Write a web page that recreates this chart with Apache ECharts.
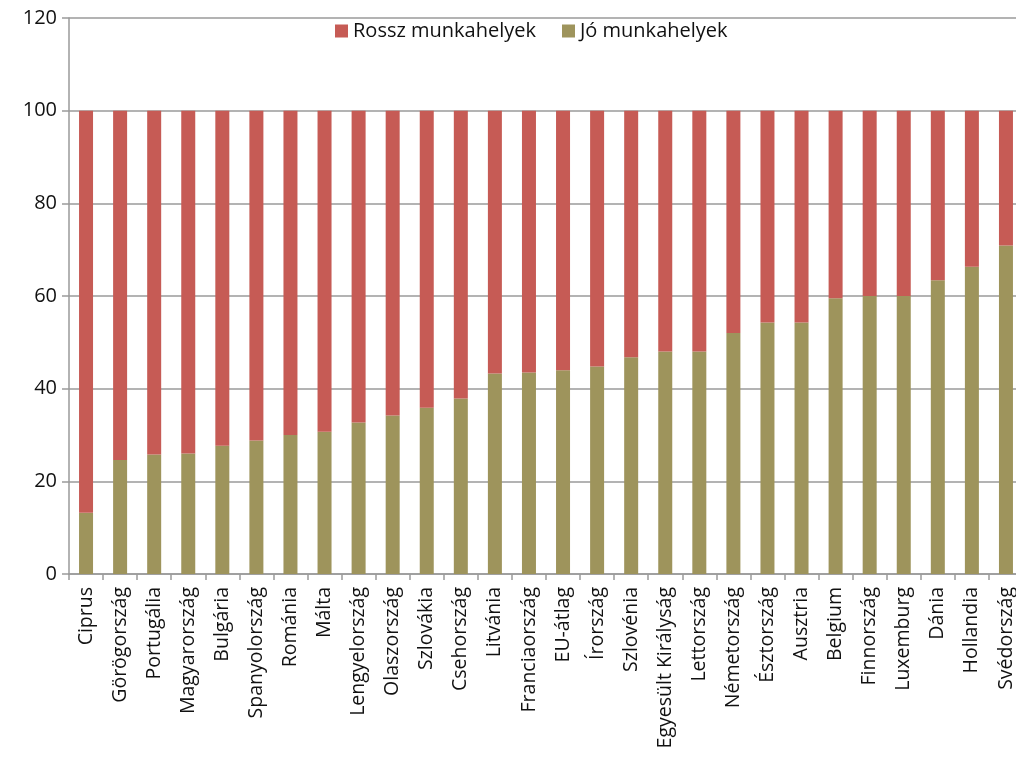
<!DOCTYPE html>
<html>
<head>
<meta charset="utf-8">
<script src="https://cdn.jsdelivr.net/npm/echarts@6/dist/echarts.min.js"></script>
<style>html,body{margin:0;padding:0;background:#fff}#c{width:1016px;height:760px}</style>
</head>
<body>
<div id="c"></div>
<script>
const categories = ["Ciprus","Görögország","Portugália","Magyarország","Bulgária","Spanyolország","Románia","Málta","Lengyelország","Olaszország","Szlovákia","Csehország","Litvánia","Franciaország","EU-átlag","Írország","Szlovénia","Egyesült Királyság","Lettország","Németország","Észtország","Ausztria","Belgium","Finnország","Luxemburg","Dánia","Hollandia","Svédország"];
const goodJobs = [13.2,24.6,25.8,26.0,27.7,28.8,30.0,30.7,32.7,34.2,35.9,37.9,43.3,43.5,44.0,44.8,46.8,48.0,48.0,52.0,54.3,54.3,59.5,60.0,60.0,63.4,66.3,70.9];
const badJobs = [86.8,75.4,74.2,74.0,72.3,71.2,70.0,69.3,67.3,65.8,64.1,62.1,56.7,56.5,56.0,55.2,53.2,52.0,52.0,48.0,45.7,45.7,40.5,40.0,40.0,36.6,33.7,29.1];
const yTicks = [0,20,40,60,80,100,120];

const font = "Open Sans";
const chart = echarts.init(document.getElementById('c'));
chart.setOption({
  animation: false,
  textStyle: {fontFamily: font},
  legend: {
    top: 16, left: 330, itemWidth: 13, itemHeight: 13, itemGap: 26,
    icon: 'rect',
    textStyle: {fontSize: 20, color: '#111', fontFamily: font},
    data: ['Rossz munkahelyek', 'Jó munkahelyek']
  },
  grid: {left: 69, width: 954, top: 18, bottom: 186, containLabel: false, outerBoundsMode: 'none'},
  xAxis: {
    type: 'category', data: categories,
    axisLine: {lineStyle: {color: '#9a9a9a', width: 1.5}},
    axisTick: {show: true, alignWithLabel: false, length: 6, lineStyle: {color: '#9a9a9a', width: 1.5}},
    axisLabel: {rotate: 90, interval: 0, fontSize: 19.5, color: '#111', margin: 13, fontFamily: font}
  },
  yAxis: {
    type: 'value', min: yTicks[0], max: yTicks[yTicks.length-1], interval: 20,
    axisLine: {show: true, lineStyle: {color: '#9a9a9a', width: 1.5}},
    axisTick: {show: true, length: 7, lineStyle: {color: '#9a9a9a', width: 1.5}},
    splitLine: {lineStyle: {color: '#9a9a9a', width: 1.5}},
    axisLabel: {fontSize: 20, color: '#111', margin: 12, fontFamily: font}
  },
  series: [
    {name: 'Jó munkahelyek', type: 'bar', stack: 'a', data: goodJobs, barWidth: 14,
     itemStyle: {color: '#9E945C'}},
    {name: 'Rossz munkahelyek', type: 'bar', stack: 'a', data: badJobs, barWidth: 14,
     itemStyle: {color: '#C65B55'}}
  ]
});
</script>
</body>
</html>
